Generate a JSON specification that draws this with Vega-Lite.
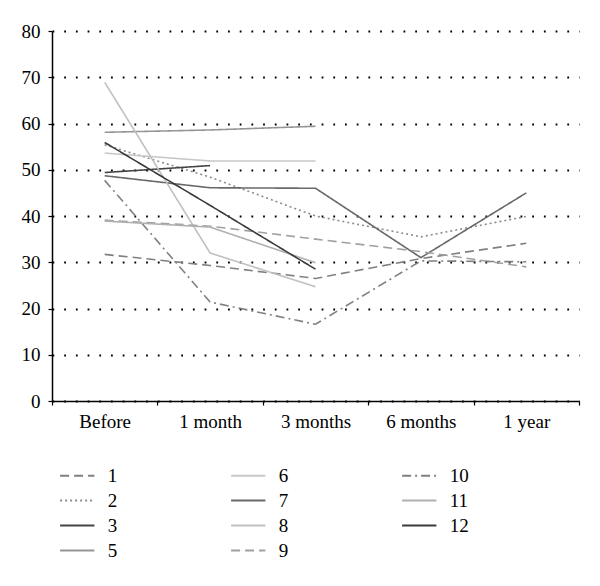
{
  "$schema": "https://vega.github.io/schema/vega-lite/v6.json",
  "width": 527,
  "height": 370,
  "autosize": "none",
  "padding": {"left": 52, "top": 31, "right": 21, "bottom": 185},
  "background": "white",
  "config": {
    "view": {"stroke": null},
    "font": "Liberation Serif",
    "axis": {"labelFont": "Liberation Serif", "labelColor": "#000", "domainColor": "#000", "tickColor": "#000"},
    "legend": {"labelFont": "Liberation Serif"}
  },
  "data": {
    "values": [
      {"series": "1", "time": "Before", "value": 31.7},
      {"series": "1", "time": "1 month", "value": 29.3},
      {"series": "1", "time": "3 months", "value": 26.5},
      {"series": "1", "time": "6 months", "value": 30.8},
      {"series": "1", "time": "1 year", "value": 34.1},
      {"series": "2", "time": "Before", "value": 55.4},
      {"series": "2", "time": "1 month", "value": 48.4},
      {"series": "2", "time": "3 months", "value": 40.0},
      {"series": "2", "time": "6 months", "value": 35.5},
      {"series": "2", "time": "1 year", "value": 39.9},
      {"series": "3", "time": "Before", "value": 49.4},
      {"series": "3", "time": "1 month", "value": 50.9},
      {"series": "5", "time": "Before", "value": 58.1},
      {"series": "5", "time": "1 month", "value": 58.6},
      {"series": "5", "time": "3 months", "value": 59.4},
      {"series": "6", "time": "Before", "value": 53.6},
      {"series": "6", "time": "1 month", "value": 51.9},
      {"series": "6", "time": "3 months", "value": 51.9},
      {"series": "7", "time": "Before", "value": 48.7},
      {"series": "7", "time": "1 month", "value": 46.1},
      {"series": "7", "time": "3 months", "value": 46.0},
      {"series": "7", "time": "6 months", "value": 31.0},
      {"series": "7", "time": "1 year", "value": 45.0},
      {"series": "8", "time": "Before", "value": 68.9},
      {"series": "8", "time": "1 month", "value": 32.0},
      {"series": "8", "time": "3 months", "value": 24.7},
      {"series": "9", "time": "Before", "value": 39.1},
      {"series": "9", "time": "1 month", "value": 37.8},
      {"series": "9", "time": "3 months", "value": 35.0},
      {"series": "9", "time": "6 months", "value": 32.3},
      {"series": "9", "time": "1 year", "value": 29.0},
      {"series": "10", "time": "Before", "value": 47.7},
      {"series": "10", "time": "1 month", "value": 21.4},
      {"series": "10", "time": "3 months", "value": 16.6},
      {"series": "10", "time": "6 months", "value": 30.3},
      {"series": "10", "time": "1 year", "value": 30.1},
      {"series": "11", "time": "Before", "value": 38.9},
      {"series": "11", "time": "1 month", "value": 37.6},
      {"series": "11", "time": "3 months", "value": 29.9},
      {"series": "12", "time": "Before", "value": 55.9},
      {"series": "12", "time": "1 month", "value": 42.3},
      {"series": "12", "time": "3 months", "value": 28.5}
    ]
  },
  "mark": {"type": "line", "strokeWidth": 1.6},
  "encoding": {
    "x": {
      "field": "time",
      "type": "ordinal",
      "sort": ["Before", "1 month", "3 months", "6 months", "1 year"],
      "scale": {"paddingInner": 0, "paddingOuter": 0},
      "axis": {
        "title": null,
        "labelAngle": 0,
        "labelFontSize": 19,
        "labelPadding": 7,
        "tickBand": "extent",
        "tickSize": 4,
        "tickWidth": 1.2,
        "domainWidth": 1.5,
        "grid": false
      }
    },
    "y": {
      "field": "value",
      "type": "quantitative",
      "scale": {"domain": [0, 80], "nice": false},
      "axis": {
        "title": null,
        "values": [0, 10, 20, 30, 40, 50, 60, 70, 80],
        "labelFontSize": 19,
        "labelPadding": 8,
        "tickSize": 4,
        "tickWidth": 1.2,
        "domainWidth": 1.5,
        "grid": true,
        "gridColor": "#000",
        "gridWidth": 1.8,
        "gridDash": [1.8, 9.9]
      }
    },
    "color": {
      "field": "series",
      "type": "nominal",
      "scale": {
        "domain": ["1", "2", "3", "5", "6", "7", "8", "9", "10", "11", "12"],
        "range": ["#808080", "#8c8c8c", "#444444", "#959595", "#c8c8c8", "#686868", "#c0c0c0", "#a0a0a0", "#808080", "#b0b0b0", "#3a3a3a"]
      },
      "legend": {
        "title": null,
        "orient": "none",
        "legendX": 11.75,
        "legendY": 431,
        "columns": 3,
        "columnPadding": 109,
        "rowPadding": 1,
        "symbolType": "M-1.4,0H1.4",
        "symbolSize": 600,
        "symbolStrokeWidth": 2,
        "labelFontSize": 19,
        "labelOffset": 17,
        "labelColor": "#000"
      }
    },
    "strokeDash": {
      "field": "series",
      "type": "nominal",
      "scale": {
        "domain": ["1", "2", "3", "5", "6", "7", "8", "9", "10", "11", "12"],
        "range": [[9, 5], [2, 3], [1, 0], [1, 0], [1, 0], [1, 0], [1, 0], [9, 5], [9, 4, 2, 4], [1, 0], [1, 0]]
      },
      "legend": {
        "title": null,
        "orient": "none",
        "legendX": 11.75,
        "legendY": 431,
        "columns": 3,
        "columnPadding": 109,
        "rowPadding": 1,
        "symbolType": "M-1.4,0H1.4",
        "symbolSize": 600,
        "symbolStrokeWidth": 2,
        "labelFontSize": 19,
        "labelOffset": 17,
        "labelColor": "#000"
      }
    }
  }
}
